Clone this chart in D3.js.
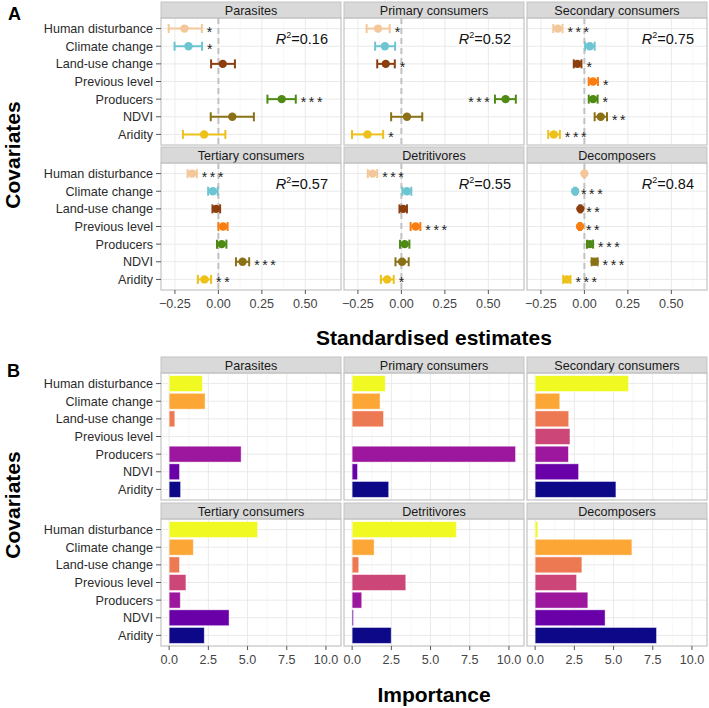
<!DOCTYPE html>
<html><head><meta charset="utf-8">
<script src="https://cdn.jsdelivr.net/npm/d3@7"></script>
<style>body{margin:0;background:#fff}svg{display:block;font-family:"Liberation Sans",Arial,sans-serif}</style>
</head><body><div id="chart"></div>
<script>
const categories = ["Human disturbance","Climate change","Land-use change","Previous level","Producers","NDVI","Aridity"];
const groups = ["Parasites","Primary consumers","Secondary consumers","Tertiary consumers","Detritivores","Decomposers"];
const r2 = ["0.16","0.52","0.75","0.57","0.55","0.84"];

// Panel A: standardised estimates (est, lower CI, upper CI), per group, in category order; null = not in model
const estParasites  = [-0.195,-0.172, 0.025, null, 0.364, 0.080,-0.082];
const loParasites   = [-0.286,-0.252,-0.042, null, 0.282,-0.044,-0.204];
const hiParasites   = [-0.095,-0.094, 0.095, null, 0.445, 0.204, 0.040];
const sigParasites  = ["*","*","","","***","",""];

const estPrimary = [-0.134,-0.095,-0.090, null, 0.599, 0.032,-0.195];
const loPrimary  = [-0.200,-0.151,-0.139, null, 0.538,-0.059,-0.284];
const hiPrimary  = [-0.067,-0.036,-0.038, null, 0.658, 0.120,-0.105];
const sigPrimary = ["*","","*","","***","","*"];

const estSecondary = [-0.153, 0.031,-0.040, 0.050, 0.050, 0.094,-0.176];
const loSecondary  = [-0.179, 0.004,-0.061, 0.025, 0.025, 0.059,-0.208];
const hiSecondary  = [-0.126, 0.059,-0.017, 0.078, 0.076, 0.130,-0.141];
const sigSecondary = ["***","","*","*","*","**","***"];

const estTertiary = [-0.151,-0.032,-0.013, 0.027, 0.019, 0.139,-0.080];
const loTertiary  = [-0.177,-0.059,-0.034, 0.000,-0.008, 0.101,-0.118];
const hiTertiary  = [-0.124,-0.004, 0.010, 0.053, 0.046, 0.177,-0.042];
const sigTertiary = ["***","","","","","***","**"];

const estDetritivores = [-0.166, 0.032, 0.010, 0.082, 0.019, 0.004,-0.082];
const loDetritivores  = [-0.193, 0.006,-0.011, 0.053,-0.008,-0.034,-0.118];
const hiDetritivores  = [-0.139, 0.057, 0.032, 0.109, 0.046, 0.042,-0.044];
const sigDetritivores = ["***","","","***","","","*"];

const estDecomposers = [ 0.000,-0.053,-0.023,-0.025, 0.032, 0.059,-0.101];
const loDecomposers  = [-0.003,-0.058,-0.028,-0.030, 0.015, 0.042,-0.122];
const hiDecomposers  = [ 0.003,-0.048,-0.018,-0.020, 0.050, 0.076,-0.080];
const sigDecomposers = ["","***","**","**","***","***","***"];

// Panel B: importance
const impParasites    = [2.12, 2.29, 0.36, 0.00, 4.59, 0.66, 0.73];
const impPrimary      = [2.11, 1.78, 2.00, 0.00, 10.42, 0.34, 2.33];
const impSecondary    = [5.95, 1.57, 2.14, 2.22, 2.12, 2.77, 5.15];
const impTertiary     = [5.64, 1.54, 0.66, 1.07, 0.71, 3.82, 2.24];
const impDetritivores = [6.64, 1.40, 0.42, 3.42, 0.61, 0.08, 2.49];
const impDecomposers  = [0.17, 6.17, 2.98, 2.64, 3.36, 4.46, 7.74];

const xTicksA = [-0.25, 0, 0.25, 0.5];
const xTicksB = [0, 2.5, 5, 7.5, 10];

const pointColors = ["#F3C799","#6EC5D2","#8B3F0E","#FA7D12","#4E8A14","#8A7116","#EDC11A"];
const barColors   = ["#F0F921","#FCA636","#ED7953","#CC4778","#9C179E","#6A00A8","#0D0887"];

const est = [estParasites,estPrimary,estSecondary,estTertiary,estDetritivores,estDecomposers];
const lo  = [loParasites,loPrimary,loSecondary,loTertiary,loDetritivores,loDecomposers];
const hi  = [hiParasites,hiPrimary,hiSecondary,hiTertiary,hiDetritivores,hiDecomposers];
const sig = [sigParasites,sigPrimary,sigSecondary,sigTertiary,sigDetritivores,sigDecomposers];
const imp = [impParasites,impPrimary,impSecondary,impTertiary,impDetritivores,impDecomposers];

const W = 709, H = 708;
const svg = d3.select("#chart").append("svg").attr("width", W).attr("height", H);

const colX = [161, 344, 527], PW = 180;
const stripH = 16, PH = 127;
const rowsA = [2, 147];     // strip tops
const rowsB = [357, 503];

const y = d3.scalePoint().domain(categories).range([0, PH]).padding(0.6);
const xA = d3.scaleLinear().domain([-0.330, 0.705]).range([0, PW]);
const xB = d3.scaleLinear().domain([-0.52, 10.96]).range([0, PW]);

function facetFrame(g, title, xs, ticks, minor, showY, showX, fmt) {
  // strip
  g.append("rect").attr("x", 0).attr("y", -stripH).attr("width", PW).attr("height", stripH)
    .attr("fill", "#d9d9d9").attr("stroke", "#c4c4c4").attr("stroke-width", 1);
  g.append("text").attr("x", PW/2).attr("y", -stripH/2).attr("dy", "0.36em")
    .attr("text-anchor", "middle").attr("font-size", 12.6).attr("fill", "#1a1a1a").text(title);
  // grid
  const grid = g.append("g");
  grid.selectAll("line.mn").data(minor).join("line")
    .attr("x1", d => xs(d)).attr("x2", d => xs(d)).attr("y1", 0).attr("y2", PH)
    .attr("stroke", "#f2f2f2").attr("stroke-width", 0.6);
  grid.selectAll("line.mj").data(ticks).join("line")
    .attr("x1", d => xs(d)).attr("x2", d => xs(d)).attr("y1", 0).attr("y2", PH)
    .attr("stroke", "#e8e8e8").attr("stroke-width", 0.9);
  grid.selectAll("line.h").data(categories).join("line")
    .attr("x1", 0).attr("x2", PW).attr("y1", d => y(d)).attr("y2", d => y(d))
    .attr("stroke", "#e8e8e8").attr("stroke-width", 0.9);
  // border
  g.append("rect").attr("x", 0).attr("y", 0).attr("width", PW).attr("height", PH)
    .attr("fill", "none").attr("stroke", "#c4c4c4").attr("stroke-width", 1.2);
  if (showY) {
    const ya = g.append("g");
    categories.forEach(c => {
      ya.append("line").attr("x1", -5).attr("x2", 0).attr("y1", y(c)).attr("y2", y(c)).attr("stroke", "#555");
      ya.append("text").attr("x", -8).attr("y", y(c)).attr("dy", "0.36em").attr("text-anchor", "end")
        .attr("font-size", 12.6).attr("fill", "#2b2b2b").text(c);
    });
  }
  if (showX) {
    ticks.forEach(t => {
      g.append("line").attr("x1", xs(t)).attr("x2", xs(t)).attr("y1", PH).attr("y2", PH+4).attr("stroke", "#555");
      g.append("text").attr("x", xs(t)).attr("y", PH+13).attr("dy", "0.36em").attr("text-anchor", "middle")
        .attr("font-size", 12.6).attr("fill", "#444").text(fmt(t));
    });
  }
}

// ---- Panel A ----
groups.forEach((grp, gi) => {
  const r = Math.floor(gi/3), c = gi % 3;
  const g = svg.append("g").attr("transform", `translate(${colX[c]},${rowsA[r]+stripH})`);
  facetFrame(g, grp, xA, xTicksA, [-0.125, 0.125, 0.375, 0.625], c === 0, r === 1, d3.format(".2f"));
  // zero dashed line
  g.append("line").attr("x1", xA(0)).attr("x2", xA(0)).attr("y1", 0).attr("y2", PH)
    .attr("stroke", "#c2c2c2").attr("stroke-width", 2).attr("stroke-dasharray", "6,4");
  categories.forEach((cat, ci) => {
    const e = est[gi][ci];
    if (e === null) return;
    const yy = y(cat), col = pointColors[ci];
    const x1 = xA(lo[gi][ci]), x2 = xA(hi[gi][ci]);
    g.append("line").attr("x1", x1).attr("x2", x2).attr("y1", yy).attr("y2", yy).attr("stroke", col).attr("stroke-width", 2);
    [x1, x2].forEach(xx => g.append("line").attr("x1", xx).attr("x2", xx).attr("y1", yy-4.5).attr("y2", yy+4.5)
      .attr("stroke", col).attr("stroke-width", 2));
    g.append("circle").attr("cx", xA(e)).attr("cy", yy).attr("r", 4.2).attr("fill", col);
    const s = sig[gi][ci];
    if (s) {
      const tw = s.length * 5.5 + (s.length - 1) * 2.6;
      let tx = x2 + 5, anchor = "start";
      if (tx + tw > PW - 2) { tx = x1 - 5 - tw; }
      g.append("text").attr("x", tx).attr("y", yy + 8).attr("font-size", 14).attr("fill", "#222")
        .attr("letter-spacing", 2.6).attr("text-anchor", anchor).text(s);
    }
  });
  // R2
  const t = g.append("text").attr("x", PW - 13).attr("y", 26).attr("text-anchor", "end")
    .attr("font-size", 14.5).attr("fill", "#111");
  t.append("tspan").attr("font-style", "italic").text("R");
  t.append("tspan").attr("font-size", 9).attr("dy", -6).text("2");
  t.append("tspan").attr("dy", 6).text("=" + r2[gi]);
});

// ---- Panel B ----
groups.forEach((grp, gi) => {
  const r = Math.floor(gi/3), c = gi % 3;
  const g = svg.append("g").attr("transform", `translate(${colX[c]},${rowsB[r]+stripH})`);
  facetFrame(g, grp, xB, xTicksB, [1.25, 3.75, 6.25, 8.75], c === 0, r === 1, d3.format(".1f"));
  const bh = y.step() * 0.9;
  categories.forEach((cat, ci) => {
    const v = imp[gi][ci];
    if (!v) return;
    g.append("rect").attr("x", xB(0)).attr("y", y(cat) - bh/2).attr("width", xB(v) - xB(0)).attr("height", bh)
      .attr("fill", barColors[ci]).attr("stroke", "rgba(255,255,255,0.55)").attr("stroke-width", 0.8);
  });
});

// ---- titles ----
svg.append("text").attr("x", 8).attr("y", 20).attr("font-size", 18).attr("font-weight", "bold").text("A");
svg.append("text").attr("x", 7).attr("y", 377).attr("font-size", 18).attr("font-weight", "bold").text("B");
svg.append("text").attr("transform", "translate(20,155) rotate(-90)").attr("text-anchor", "middle")
  .attr("font-size", 21).attr("font-weight", "bold").text("Covariates");
svg.append("text").attr("transform", "translate(20,505) rotate(-90)").attr("text-anchor", "middle")
  .attr("font-size", 21).attr("font-weight", "bold").text("Covariates");
svg.append("text").attr("x", 434).attr("y", 345).attr("text-anchor", "middle")
  .attr("font-size", 21).attr("font-weight", "bold").text("Standardised estimates");
svg.append("text").attr("x", 434).attr("y", 702).attr("text-anchor", "middle")
  .attr("font-size", 21).attr("font-weight", "bold").text("Importance");
</script></body></html>
